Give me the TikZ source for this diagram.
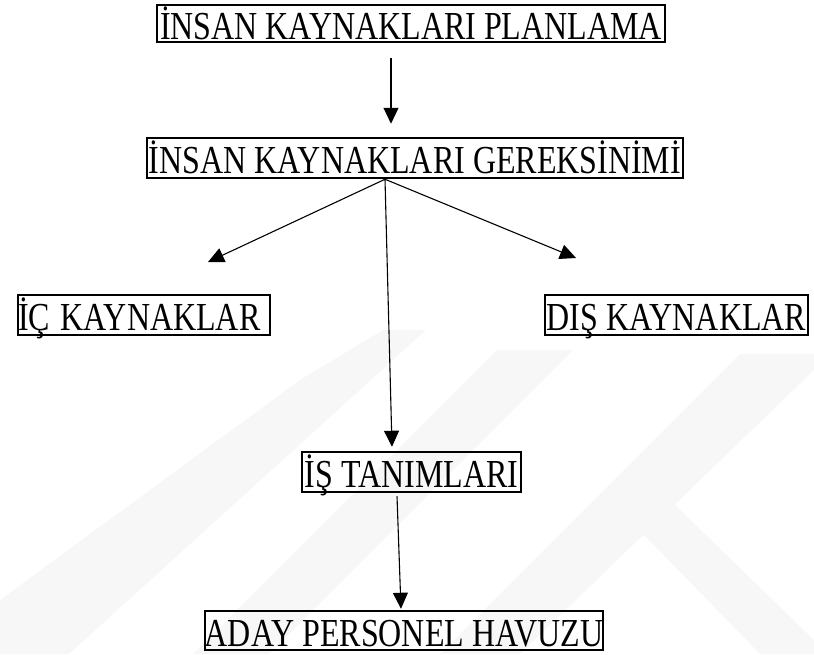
\documentclass[tikz,border=0pt]{standalone}
\usepackage{graphicx}
\usepackage{fontspec}
\setmainfont{Liberation Serif}
\usetikzlibrary{arrows.meta}
\newcommand{\uzun}[1]{\scalebox{1}[1.24]{#1}}
\tikzset{
  kutu/.style={draw,line width=2.5pt,inner sep=0pt,minimum height=39pt,
    text height=31pt,text depth=0pt,font=\fontsize{32}{36}\selectfont},
  ok/.style={line width=1.1pt,-{Triangle[length=16pt,width=15pt]}},
  filigran/.style={fill=black!3}
}
\begin{document}
\begin{tikzpicture}[x=1pt,y=-1pt]
  \useasboundingbox (0,0) rectangle (814,654);
  % silik filigran
  \fill[filigran] (300,380) -- (383,330) -- (426,330) -- (69,654) -- (0,654) -- (0,600) -- cycle;
  \fill[filigran] (497,350) -- (573,350) -- (269,654) -- (193,654) -- cycle;
  \fill[filigran] (740,354) -- (814,354) -- (814,370) -- (520,654) -- (440,654) -- cycle;
  \fill[filigran] (610,500) -- (670,500) -- (814,640) -- (814,654) -- (760,654) -- cycle;
  % kutular
  \node[kutu,minimum width=508pt,minimum height=37pt] (ikp) at (411,23.5) {\uzun{İNSAN KAYNAKLARI PLANLAMA}};
  \node[kutu,minimum width=536pt,minimum height=40pt] (ikg) at (415,158) {\uzun{İNSAN KAYNAKLARI GEREKSİNİMİ}};
  \node[kutu,text width=252pt,align=left,minimum height=40pt] (ick) at (144,315) {\uzun{İÇ KAYNAKLAR}};
  \node[kutu,minimum width=263pt,minimum height=40pt] (dsk) at (676.5,315) {\uzun{DIŞ KAYNAKLAR}};
  \node[kutu,minimum width=219pt,minimum height=40pt] (ist) at (411.5,472) {\uzun{İŞ TANIMLARI}};
  \node[kutu,minimum width=392pt,minimum height=39pt] (apv) at (404,630.5) {\uzun{ADAY PERSONEL HAVUZU}};
  % serbest uclar
  \coordinate (icuc) at (208,262);
  \coordinate (dsuc) at (576,258);
  % oklar
  \draw[ok] ([xshift=-20pt,yshift=-15pt]ikp.south) -- ([xshift=-24pt,yshift=13pt]ikg.north);
  \draw[ok] ([xshift=-30pt]ikg.south) -- (icuc);
  \draw[ok] ([xshift=-30pt]ikg.south) -- (dsuc);
  \draw[ok] ([xshift=-30pt]ikg.south) -- ([xshift=-19.5pt,yshift=4pt]ist.north);
  \draw[ok] ([xshift=-14.5pt,yshift=-3pt]ist.south) -- ([xshift=-3pt,yshift=1pt]apv.north);
\end{tikzpicture}
\end{document}
